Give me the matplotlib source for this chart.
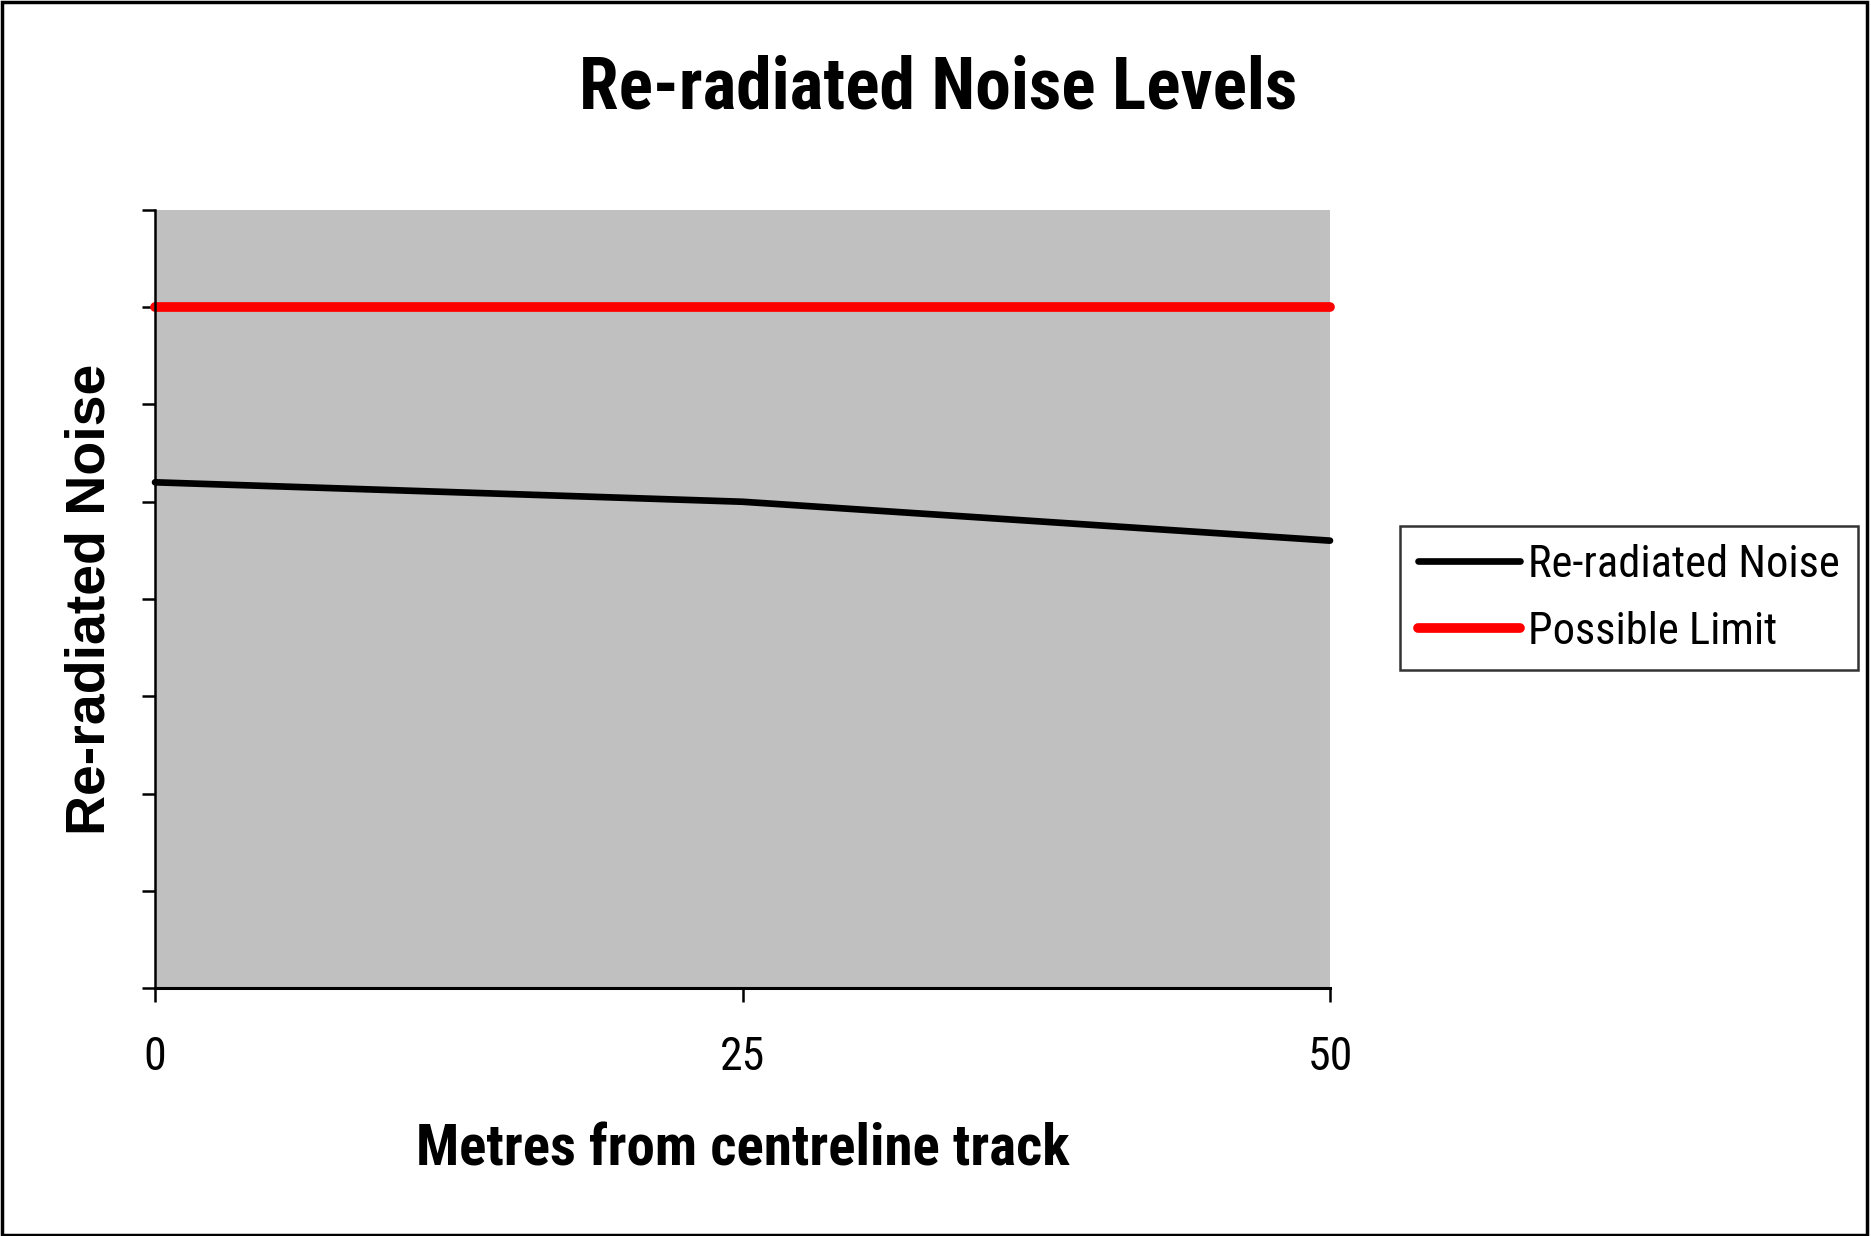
import matplotlib
matplotlib.use("Agg")
import matplotlib.pyplot as plt
from matplotlib.patches import Rectangle

# Data
distance_m = [0, 25, 50]
x_tick_labels = ["0", "25", "50"]
reradiated_noise = [52, 50, 46]
possible_limit = [70, 70, 70]
y_ticks = [0, 10, 20, 30, 40, 50, 60, 70, 80]

narrow = ["Roboto Condensed", "Liberation Sans", "DejaVu Sans"]
regular = ["Liberation Sans", "DejaVu Sans"]

W, H, DPI = 1871, 1236, 100
fig = plt.figure(figsize=(W / DPI, H / DPI), dpi=DPI, facecolor="white")

# Plot area in pixel coordinates
left, right, top, bottom = 155, 1330, 210, 988
ax = fig.add_axes([left / W, 1 - bottom / H, (right - left) / W, (bottom - top) / H])
ax.set_facecolor("#c0c0c0")

ax.plot(distance_m, reradiated_noise, color="black", lw=4.8,
        solid_capstyle="round", solid_joinstyle="round", label="Re-radiated Noise", clip_on=False)
ax.plot(distance_m, possible_limit, color="#ff0000", lw=7.0,
        solid_capstyle="round", label="Possible Limit", clip_on=False)

ax.set_xlim(0, 50)
ax.set_ylim(y_ticks[0], y_ticks[-1])
ax.set_xticks(distance_m)
ax.set_xticklabels(x_tick_labels, family=narrow, fontsize=33)
ax.set_yticks(y_ticks)
ax.set_yticklabels([])

for s in ("top", "right"):
    ax.spines[s].set_visible(False)
ax.spines["left"].set_linewidth(1.8)
ax.spines["bottom"].set_linewidth(2.2)
ax.tick_params(axis="y", direction="out", length=9.5, width=1.8)
ax.tick_params(axis="x", direction="out", length=10, width=1.8, pad=24)

ax.set_xlabel("Metres from centreline track", family=narrow, fontweight="bold",
              fontsize=41, labelpad=31)
ax.set_ylabel("Re-radiated Noise", family=regular, fontweight="bold",
              fontsize=40, labelpad=15)

fig.text(938 / W, 1 - 89 / H, "Re-radiated Noise Levels", family=narrow,
         fontweight="bold", fontsize=51.5, ha="center", va="center")

leg = fig.legend(loc="upper left", bbox_to_anchor=(1400 / W, 1 - 526 / H),
                 prop={"family": narrow, "size": 32}, frameon=True, fancybox=False,
                 edgecolor="black", handlelength=2.3, handletextpad=0.18,
                 labelspacing=0.56, borderpad=0.4, borderaxespad=0)
leg.get_frame().set_linewidth(1.8)

# Outer border around the figure
fig.patches.append(Rectangle((0.001, 0.001), 0.997, 0.997, transform=fig.transFigure,
                             fill=False, edgecolor="black", lw=2.5))

fig.savefig("out.png", dpi=DPI, facecolor="white")
